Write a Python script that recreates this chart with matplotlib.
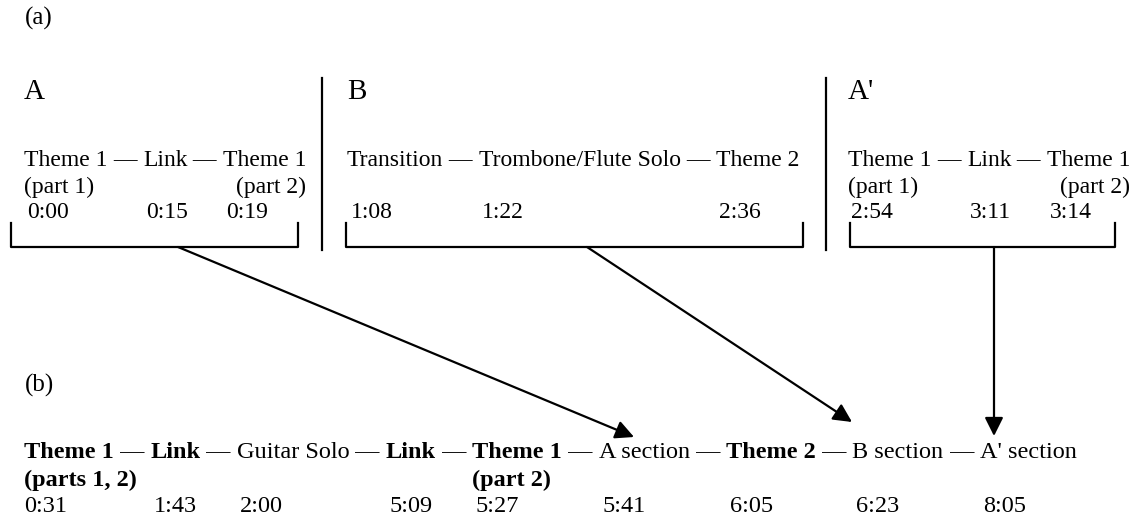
import matplotlib.pyplot as plt

plt.rcParams['font.family'] = 'Liberation Serif'

DASH = ' \u2014 '

# panel (a): the three sections of the original tune
sec_labels = ['A', 'B', "A'"]
sec_x = [24, 347, 848]
sec_words = [['Theme 1', 'Link', 'Theme 1'],
             ['Transition', 'Trombone/Flute Solo', 'Theme 2'],
             ['Theme 1', 'Link', 'Theme 1']]
sec_part1 = ['(part 1)', '', '(part 1)']
sec_part2 = ['(part 2)', '', '(part 2)']
sec_times = [['0:00', '0:15', '0:19'], ['1:08', '1:22', '2:36'], ['2:54', '3:11', '3:14']]
bracket_x = [(11, 298), (346, 803), (850, 1115)]
divider_x = [322, 826]
arrow_from = [178, 587, 994]
arrow_to = [(634, 437), (852, 422), (994, 436)]

# panel (b): the cover version
b_words = ['Theme 1', 'Link', 'Guitar Solo', 'Link', 'Theme 1',
           'A section', 'Theme 2', 'B section', "A' section"]
b_bold = [True, True, False, True, True, False, True, False, False]
b_parts = {0: '(parts 1, 2)', 4: '(part 2)'}
b_times = ['0:31', '1:43', '2:00', '5:09', '5:27', '5:41', '6:05', '6:23', '8:05']

fig = plt.figure(figsize=(11.34, 5.23), dpi=100)
ax = fig.add_axes([0, 0, 1, 1])
ax.set_xlim(0, 1134)
ax.set_ylim(523, 0)
ax.axis('off')


def chain(x, y, words, bold, fs):
    # write words joined by em dashes, return the artist of each word
    arts = []
    t = None
    for i, w in enumerate(words):
        wt = 'bold' if bold[i] else 'normal'
        if t is None:
            t = ax.text(x, y, w, fontsize=fs, fontweight=wt, va='center')
        else:
            t = ax.annotate(w, xy=(1, 0), xycoords=t, va='bottom', fontsize=fs, fontweight=wt)
        arts.append(t)
        if i < len(words) - 1:
            t = ax.annotate(DASH, xy=(1, 0), xycoords=t, va='bottom', fontsize=fs)
    return arts


def under(art, y, s, fs, dx=0, **kw):
    ax.annotate(s, xy=(0, y), xycoords=(art, 'data'), xytext=(dx, 0),
                textcoords='offset points', va='center', fontsize=fs, **kw)


fs = 17
y_row = [161, 187, 213]
ax.text(25, 18, '(a)', fontsize=18, va='center')
for i in range(3):
    ax.text(sec_x[i], 92, sec_labels[i], fontsize=21, va='center')
    arts = chain(sec_x[i], y_row[0], sec_words[i], [False] * 3, fs)
    if sec_part1[i]:
        under(arts[0], y_row[1], sec_part1[i], fs)
        ax.annotate(sec_part2[i], xy=(1, y_row[1]), xycoords=(arts[-1], 'data'),
                    va='center', ha='right', fontsize=fs)
    for a, t in zip(arts, sec_times[i]):
        under(a, y_row[2], t, fs, dx=2.5)
    x0, x1 = bracket_x[i]
    ax.plot([x0, x0, x1, x1], [223, 247, 247, 223], color='black', lw=1.6)
for x in divider_x:
    ax.plot([x, x], [78, 250], color='black', lw=1.6)
for xs, tip in zip(arrow_from, arrow_to):
    ax.annotate('', xy=tip, xytext=(xs, 247),
                arrowprops=dict(arrowstyle='-|>', color='black', lw=1.6, mutation_scale=28,
                                shrinkA=0, shrinkB=0))

fb = 17.5
ax.text(25, 385, '(b)', fontsize=18, va='center')
arts = chain(24, 453, b_words, b_bold, fb)
for k, s in b_parts.items():
    under(arts[k], 480, s, fb, fontweight='bold')
for a, t in zip(arts, b_times):
    under(a, 507, t, fb, dx=2.5 if a is not arts[0] else 0)

plt.savefig('out.png', dpi=100)
